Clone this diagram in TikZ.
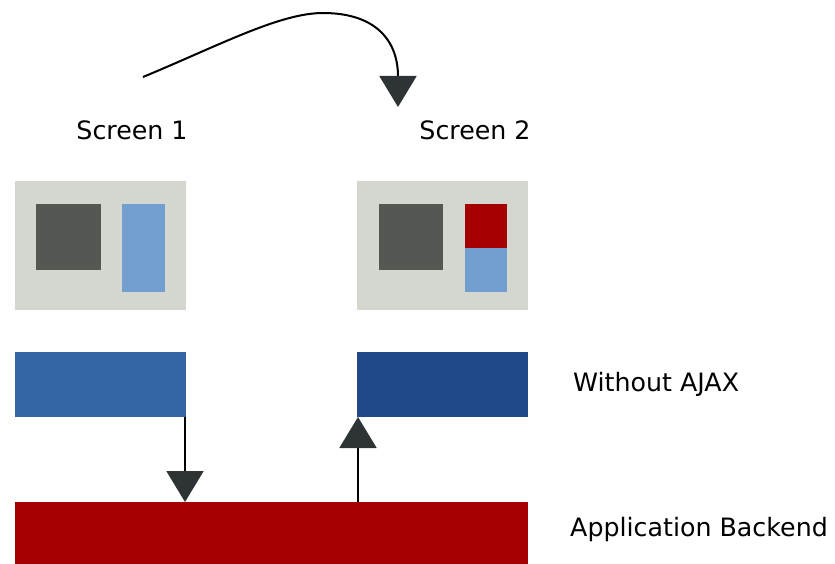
\documentclass[tikz,border=0pt]{standalone}
\usepackage{fontspec}
\setmainfont{DejaVu Sans}
\usetikzlibrary{arrows.meta}
\definecolor{scrgray}{HTML}{D3D7CF}
\definecolor{darkgray}{HTML}{555753}
\definecolor{lightblue}{HTML}{729FCF}
\definecolor{darkred}{HTML}{A40000}
\definecolor{midblue}{HTML}{3465A4}
\definecolor{deepblue}{HTML}{204A87}
\definecolor{tipgray}{HTML}{2E3436}
\begin{document}
\begin{tikzpicture}[x=1pt,y=-1pt,
  blk/.style={rectangle,inner sep=0pt,outer sep=0pt,draw=none,anchor=north west},
  lbl/.style={font=\fontsize{25.3}{29}\selectfont,text=black,inner sep=0pt},
  conn/.style={line width=2pt,draw=black,-{Triangle[width=37pt,length=31pt,color=tipgray,fill=tipgray]}}]
\useasboundingbox (0,0) rectangle (835,564);
% screens
\node[blk,fill=scrgray,minimum width=171pt,minimum height=129pt] (scr1) at (15,181) {};
\node[blk,fill=scrgray,minimum width=171pt,minimum height=129pt] (scr2) at (357,181) {};
\node[blk,fill=darkgray,minimum width=65pt,minimum height=66pt] (dk1) at (36,204) {};
\node[blk,fill=lightblue,minimum width=43pt,minimum height=88pt] (bl1) at (122,204) {};
\node[blk,fill=darkgray,minimum width=64pt,minimum height=66pt] (dk2) at (379,204) {};
\node[blk,fill=darkred,minimum width=42pt,minimum height=44pt] (rd2) at (465,204) {};
\node[blk,fill=lightblue,minimum width=42pt,minimum height=44pt] (bl2) at (465,248) {};
% bars
\node[blk,fill=midblue,minimum width=171pt,minimum height=65pt] (bar1) at (15,352) {};
\node[blk,fill=deepblue,minimum width=171pt,minimum height=65pt] (bar2) at (357,352) {};
\node[blk,fill=darkred,minimum width=513pt,minimum height=62pt] (back) at (15,502) {};
% labels
\node[lbl] (s1) at (132,130) {Screen 1};
\node[lbl] (s2) at (475,130) {Screen 2};
\node[lbl,anchor=west] (wa) at (573,384) {Without AJAX};
\node[lbl,anchor=west] (ab) at (570,530) {Application Backend};
% connectors
\coordinate (cstart) at (143,77);
\coordinate (cpeak) at (323,13);
\coordinate (cend) at (398,76);
\draw[conn,shorten >=-31pt] (cstart) .. controls (220,45) and (280,13) .. (cpeak)
  .. controls (375,13) and (398,40) .. (cend);
\draw[conn] ([xshift=-1pt]bar1.south east) -- ([xshift=-1pt]bar1.south east |- back.north);
\draw[conn] ([xshift=1pt]bar2.south west |- back.north) -- ([xshift=1pt]bar2.south west);
\end{tikzpicture}
\end{document}
